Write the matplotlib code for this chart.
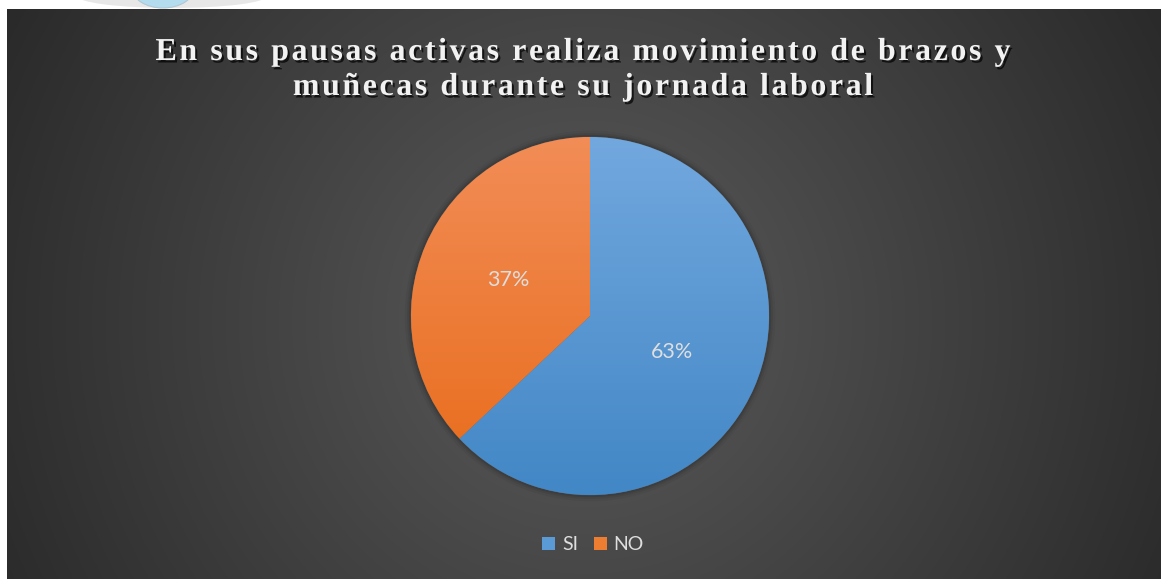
import numpy as np
import matplotlib
matplotlib.use("Agg")
import matplotlib.pyplot as plt
from matplotlib import patheffects
from matplotlib.patches import Ellipse, Circle
from matplotlib.font_manager import FontProperties
from matplotlib.textpath import TextToPath

# ---- data ----
categories = ["SI", "NO"]
shares = [63, 37]
title_lines = ["En sus pausas activas realiza movimiento de brazos y",
               "muñecas durante su jornada laboral"]

# ---- style ----
base_colors = ["#5b9bd5", "#ed7d31"]
grad_top = ["#72a8de", "#f28d57"]
grad_bottom = ["#4287c6", "#e86b19"]
label_color = "#dedede"
ui_font = "Lato"

W, H = 1161, 579
fig = plt.figure(figsize=(W / 100, H / 100), dpi=100)
fig.patch.set_facecolor("white")

# decorative logo edge in the white margin
fig.patches.append(Ellipse((172 / W, 1 + 4 / H), 190 / W, 24 / H, transform=fig.transFigure,
                           facecolor="#e2e2e2", edgecolor="none", alpha=0.8, zorder=0))
fig.patches.append(Ellipse((163 / W, 1 + 12 / H), 62 / W, 40 / H, transform=fig.transFigure,
                           facecolor="#b3dcef", edgecolor="#b0c8d4", lw=0.8, zorder=1))

# chart area with radial gray gradient
cx0, cy0, cw, ch = 7, 9, W - 7, H - 9
ax_bg = fig.add_axes([cx0 / W, 0, cw / W, ch / H])
ax_bg.set_axis_off()
xx, yy = np.meshgrid(np.arange(cw) + cx0, np.arange(ch) + cy0)
d = np.hypot(xx - 585, yy - 320)
v = np.clip(0x5b - 0.075 * d, 0x26, 0x5b) / 255.0
img = np.dstack([v, v, v])
ax_bg.imshow(img, extent=[0, 1, 0, 1], origin="upper", aspect="auto", interpolation="bilinear")
ax_bg.set_xlim(0, 1)
ax_bg.set_ylim(0, 1)

# pie
pcx, pcy, pr = 590, 316, 179
ax = fig.add_axes([(pcx - pr) / W, (H - pcy - pr) / H, 2 * pr / W, 2 * pr / H])
ax.set_axis_off()
ax.set_xlim(-1, 1)
ax.set_ylim(-1, 1)

# soft shadow around the pie
for k, a in zip([1.035, 1.022, 1.012], [0.04, 0.06, 0.09]):
    ax.add_patch(Circle((0, 0.0), k, facecolor="black", edgecolor="none", alpha=a, zorder=0,
                        clip_on=False))

wedges, _, autotexts = ax.pie(shares, colors=base_colors, startangle=90, counterclock=False,
                              radius=1, autopct="%.0f%%", pctdistance=0.5,
                              wedgeprops=dict(linewidth=0.4, edgecolor="#555555"),
                              textprops=dict(color=label_color, fontsize=15.5, family=ui_font))
ax.set_xlim(-1, 1)
ax.set_ylim(-1, 1)

def hex_rgb(h):
    return np.array(matplotlib.colors.to_rgb(h))

t = np.linspace(0, 1, 256)[:, None]
for w, top, bot in zip(wedges, grad_top, grad_bottom):
    g = (1 - t) * hex_rgb(top) + t * hex_rgb(bot)
    gimg = np.repeat(g[:, None, :], 2, axis=1)
    im = ax.imshow(gimg, extent=[-1, 1, -1, 1], origin="upper", aspect="auto", zorder=w.get_zorder())
    im.set_clip_path(w)
for at in autotexts:
    at.set_zorder(5)

# title with expanded letter spacing
title_prop = FontProperties(family="Liberation Serif", weight="bold", size=23)
ttp = TextToPath()
px_per_pt = 100 / 72

def text_w(s):
    w_, _, _ = ttp.get_text_width_height_descent(s + "l", title_prop, ismath=False)
    wl, _, _ = ttp.get_text_width_height_descent("l", title_prop, ismath=False)
    return (w_ - wl) * px_per_pt

natural = text_w(title_lines[0])
tracking = (855 - natural) / (len(title_lines[0]) - 1)
shadow = [patheffects.withSimplePatchShadow(offset=(1.5, -1.8), shadow_rgbFace="black", alpha=0.7)]
center_x = 583
for line, base in zip(title_lines, [60, 95]):
    total = text_w(line) + tracking * (len(line) - 1)
    left = center_x - total / 2
    for i, c in enumerate(line):
        if c == " ":
            continue
        x = left + text_w(line[:i]) + i * tracking
        fig.text(x / W, 1 - base / H, c, fontproperties=title_prop, color="#f2f2f2",
                 ha="left", va="baseline", path_effects=shadow)

# legend
leg = fig.legend(handles=wedges, labels=categories, loc="center", ncol=2,
                 bbox_to_anchor=(593 / W, 1 - 545 / H), frameon=False,
                 handlelength=0.68, handleheight=0.68, handletextpad=0.35, columnspacing=0.8,
                 prop=FontProperties(family=ui_font, size=14))
for txt in leg.get_texts():
    txt.set_color(label_color)
for h, c in zip(leg.legend_handles, base_colors):
    h.set_facecolor(c)
    h.set_edgecolor("none")

fig.savefig("out.png", dpi=100, facecolor=fig.get_facecolor())
